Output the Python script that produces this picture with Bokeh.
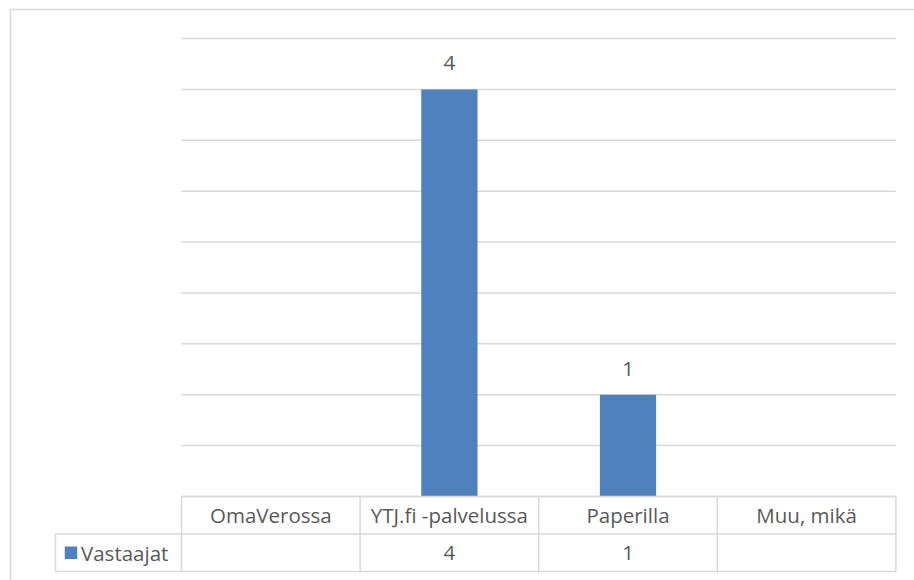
from bokeh.plotting import figure
from bokeh.models import Range1d
from bokeh.core.properties import value
from bokeh.embed import file_html
from bokeh.resources import INLINE

# ---- data ----
categories = ["OmaVerossa", "YTJ.fi -palvelussa", "Paperilla", "Muu, mikä"]
series_name = "Vastaajat"
values = [None, 4, 1, None]
grid_ticks = [0, 0.5, 1, 1.5, 2, 2.5, 3, 3.5, 4, 4.5]

# ---- layout (pixels) ----
W, H = 914, 580
PLOT_LEFT = 181.0
COL_W = 178.6
BASE_Y = 496.0
UNIT_H = 101.78
ROW1_BOTTOM = 533.5
ROW2_BOTTOM = 571.0
HEADER_LEFT = 55.0

def px2x(px):
    return (px - PLOT_LEFT) / COL_W

def py2y(py):
    return (BASE_Y - py) / UNIT_H

FONT = "Open Sans"
FS = "20.5px"
TXT = "#595959"
GRID = "#d9d9d9"
BLUE = "#4f81bd"

p = figure(width=W, height=H, output_backend="svg", toolbar_location=None,
           x_axis_type=None, y_axis_type=None, min_border=0,
           x_range=Range1d(px2x(0), px2x(W)), y_range=Range1d(py2y(H), py2y(0)))
p.outline_line_color = None
p.background_fill_color = "white"
p.border_fill_color = "white"

n = len(categories)
# gridlines
p.segment(x0=[0] * len(grid_ticks), x1=[n] * len(grid_ticks), y0=grid_ticks, y1=grid_ticks,
          line_color=GRID, line_width=1.5)

# bars
bx = [i + 0.5 for i, v in enumerate(values) if v is not None]
bv = [v for v in values if v is not None]
p.vbar(x=bx, top=bv, bottom=0, width=0.315, fill_color=BLUE, line_color=None)

# value labels
off = 26 / UNIT_H
p.text(x=bx, y=[v + off for v in bv], text=[str(v) for v in bv],
       text_align="center", text_baseline="middle", text_color=TXT,
       text_font=value(FONT), text_font_size=FS)

# data table lines
y_top = py2y(BASE_Y)
y_mid = py2y(ROW1_BOTTOM)
y_bot = py2y(ROW2_BOTTOM)
x_hdr = px2x(HEADER_LEFT)
hx0 = [0, x_hdr, x_hdr]
hx1 = [n, n, n]
hy = [y_top, y_mid, y_bot]
p.segment(x0=hx0, x1=hx1, y0=hy, y1=hy, line_color=GRID, line_width=1.5)
vx = [x_hdr] + list(range(n + 1))
vy0 = [y_mid] + [y_top] * (n + 1)
vy1 = [y_bot] * (n + 2)
p.segment(x0=vx, x1=vx, y0=vy0, y1=vy1, line_color=GRID, line_width=1.5)

# outer chart border (left and top)
p.segment(x0=[px2x(10), px2x(10)], x1=[px2x(10), px2x(W + 5)],
          y0=[py2y(9), py2y(9)], y1=[py2y(H + 5), py2y(9)],
          line_color=GRID, line_width=1.5)

# table text
p.text(x=[i + 0.5 for i in range(n)], y=[(y_top + y_mid) / 2] * n, text=categories,
       text_align="center", text_baseline="middle", text_color=TXT,
       text_font=value(FONT), text_font_size=FS)
tv = [i + 0.5 for i, v in enumerate(values) if v is not None]
p.text(x=tv, y=[(y_mid + y_bot) / 2] * len(tv), text=[str(v) for v in bv],
       text_align="center", text_baseline="middle", text_color=TXT,
       text_font=value(FONT), text_font_size=FS)

# legend key + series name
ky = (y_mid + y_bot) / 2
p.scatter(x=[px2x(70.5)], y=[ky], marker="square", size=12.5, fill_color=BLUE, line_color=None)
p.text(x=[px2x(80.5)], y=[ky], text=[series_name], text_align="left", text_baseline="middle",
       text_color=TXT, text_font=value(FONT), text_font_size=FS)

open("out.html", "w").write(file_html(p, INLINE))
